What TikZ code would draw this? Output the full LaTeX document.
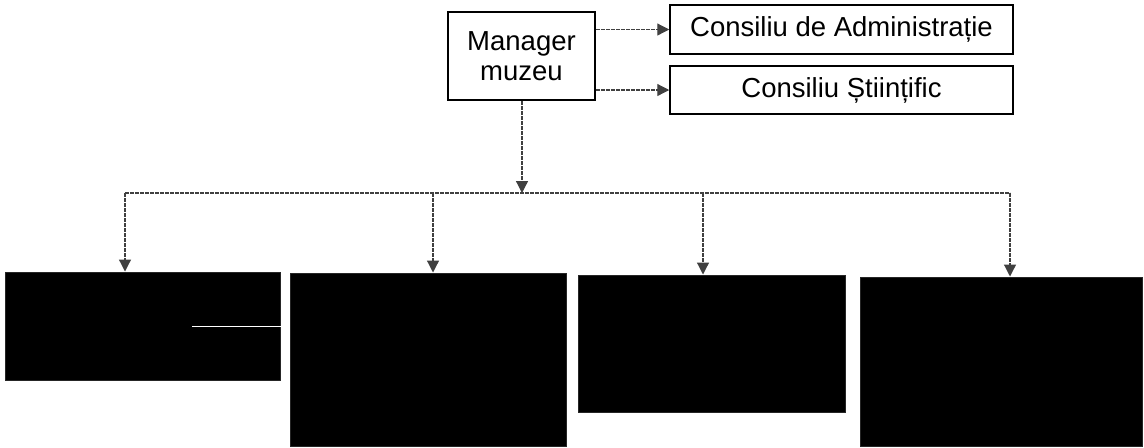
\documentclass[tikz,border=0pt]{standalone}
\usepackage{fontspec}
\setmainfont{Liberation Sans}
\usetikzlibrary{arrows.meta}

\tikzset{
  box/.style={draw,line width=0.75pt,rectangle,inner sep=0pt,align=center,
    font=\fontsize{13.75}{15}\selectfont},
  blackbox/.style={fill=black,draw=black!85,line width=0.5pt,rectangle,inner sep=0pt},
  link/.style={line width=0.6pt,black!75,dash pattern=on 2pt off 0.5pt},
  linkarrow/.style={link,-{Triangle[length=6pt,width=6pt]}}
}

\begin{document}
\begin{tikzpicture}[x=0.5pt,y=-0.5pt]
\useasboundingbox (0,0) rectangle (1144,447);

% top level
\node[box,minimum width=73.5pt,minimum height=44pt] (manager) at (521.5,56) {Manager\\muzeu};
\node[box,minimum width=171.5pt,minimum height=24.5pt] (admin) at (841.5,29.5) {Consiliu de Administrație};
\node[box,minimum width=171.5pt,minimum height=24pt] (stiint) at (841.5,90) {Consiliu Științific};

\draw[linkarrow] (manager.east |- admin) -- (admin);
\draw[linkarrow] (manager.east |- stiint) -- (stiint);

% departments
\node[blackbox,minimum width=137.5pt,minimum height=54pt] (b1) at (142.5,326) {};
\node[blackbox,minimum width=138pt,minimum height=86.5pt] (b2) at (428,359.5) {};
\node[blackbox,minimum width=133.5pt,minimum height=68.5pt] (b3) at (711.5,343.5) {};
\node[blackbox,minimum width=141pt,minimum height=84.5pt] (b4) at (1001,361.5) {};
\draw[white,line width=0.5pt] (b1.east) -- ++(-89,0);

% bus
\coordinate (j0) at (522,193);
\coordinate (j1) at (125,193);
\coordinate (j2) at (433,193);
\coordinate (j3) at (703,193);
\coordinate (j4) at (1010,193);

\draw[linkarrow] (manager.south -| j0) -- (j0);
\draw[link] (j1) -- (j4);
\draw[linkarrow] (j1) -- (j1 |- b1.north);
\draw[linkarrow] (j2) -- (j2 |- b2.north);
\draw[linkarrow] (j3) -- (j3 |- b3.north);
\draw[linkarrow] (j4) -- (j4 |- b4.north);
\end{tikzpicture}
\end{document}
